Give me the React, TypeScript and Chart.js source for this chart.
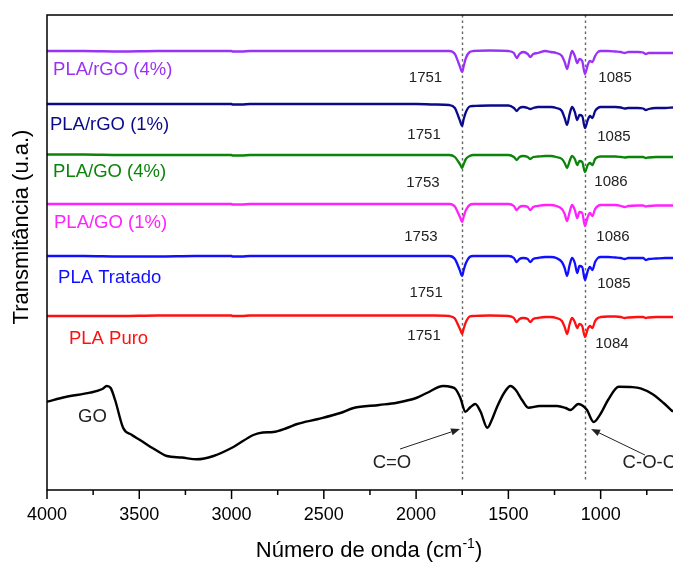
import React, { useEffect, useRef } from "react";
import { Chart, registerables } from "chart.js";

Chart.register(...registerables);

// Wavenumber grid (cm-1) for the PLA-based spectra
const wavenumbers = [4000, 3800, 3600, 3400, 3200, 3000, 2995, 2945, 2900, 2800, 2600, 2400, 2200, 2000, 1900, 1820, 1790, 1770, 1760, 1751, 1742, 1730, 1710, 1690, 1600, 1500, 1470, 1455, 1440, 1420, 1395, 1382, 1365, 1340, 1300, 1270, 1240, 1210, 1195, 1182, 1168, 1155, 1140, 1127, 1115, 1100, 1085, 1070, 1058, 1045, 1030, 1015, 1000, 960, 920, 890, 870, 850, 800, 770, 755, 740, 700, 650, 608];

const plaRgo4 = [439, 439, 438.5, 439, 439, 439, 438.5, 438.5, 439, 439, 439, 439, 439, 439, 439, 439, 436, 427, 422, 418, 424, 432, 438, 439, 439.5, 439, 437, 432, 436, 438, 436, 433, 436, 437, 439, 438, 437, 434, 428, 421, 431, 439, 434, 427, 431, 429, 416, 425, 429, 428, 434, 438, 439, 439, 438.5, 438, 437, 438, 438, 437.5, 436, 437, 437, 437, 437];
const plaRgo1 = [386, 386, 386, 386, 386, 386, 385.5, 385.5, 386, 386, 386, 386, 386, 386, 385.5, 385, 382, 373, 368, 364, 371, 378, 383.5, 384, 384.5, 384.5, 382, 379, 382, 383, 382, 381, 382, 383, 383, 383, 382, 379, 372, 365, 376, 383, 378, 370, 375, 374, 362, 370, 374, 372, 379, 382, 383, 383, 383, 382.5, 381.5, 382, 382, 381.5, 380, 381, 382, 382, 382.5];
const plaGo4 = [335.5, 335.5, 335, 335, 335, 335, 334.5, 334.5, 335, 335, 335, 335, 335, 335, 335, 335, 333, 328, 325, 322, 326, 331, 334, 335, 335, 335, 333, 330, 333, 334, 333, 331, 333, 333.5, 334, 334, 333, 331, 327, 322, 329, 334, 331, 325, 329, 328, 318, 325, 327, 325, 331, 333, 333.5, 333.5, 333.5, 333, 332.5, 333, 333, 333, 332, 332.5, 333, 333, 333];
const plaGo1 = [286, 286, 286, 286, 286, 286, 285.5, 285.5, 286, 286, 286, 286, 286, 286, 286, 286, 283.5, 276, 272, 268, 273.5, 280, 285, 286, 286, 286, 284, 280, 283, 284, 283, 280, 283, 284, 285, 285, 284, 281, 276, 269, 278, 285, 280, 272, 278, 277, 264, 273, 277, 274, 281, 284, 285, 285, 285, 284, 283, 284, 284.5, 284.5, 283.5, 284, 284.5, 284.5, 284.5];
const plaTratado = [234, 234, 233.5, 233.5, 234, 234, 233.5, 233.5, 234, 234, 234, 234, 234, 234, 234, 234, 231, 223, 218, 214, 220, 227, 233, 234, 234, 234, 232, 228, 231, 232, 231, 228, 231, 232, 233, 233, 232, 228, 222, 214, 225, 232, 227, 217, 224, 223, 210, 219, 223, 220, 228, 232, 233, 233, 232.5, 232, 231, 232, 232, 232, 230, 231, 231.5, 232, 232];
const plaPuro = [174, 174, 174, 174.5, 174.5, 174.5, 174, 174, 174.5, 174.5, 174.5, 174.5, 174.5, 174.5, 174.5, 174, 171.5, 164, 160, 156, 161.5, 168, 173.5, 174, 174.5, 174, 172, 168, 171, 172, 171, 168, 171, 172, 173, 173, 172, 169, 163, 156, 166, 172, 168, 162, 166, 164, 153, 161, 164, 162, 169, 172, 173, 173.5, 173.5, 173, 172, 172.5, 173, 173, 172, 172.5, 173, 173, 173];

// GO spectrum
const goWavenumbers = [4000, 3900, 3767, 3700, 3676, 3655, 3631, 3587, 3540, 3496, 3420, 3351, 3270, 3188, 3098, 2990, 2882, 2830, 2774, 2700, 2644, 2530, 2411, 2339, 2200, 2104, 2000, 1942, 1853, 1810, 1787, 1760, 1733, 1705, 1679, 1650, 1614, 1590, 1561, 1520, 1489, 1460, 1426, 1392, 1330, 1236, 1190, 1164, 1121, 1095, 1074, 1038, 1001, 960, 902, 840, 784, 720, 659, 608];
const goValues = [88.3, 93, 97.3, 101, 104, 102, 90, 62, 55, 50, 41, 34, 32.5, 30.7, 34, 43, 55, 57.5, 58, 62, 66, 71, 77, 82, 85, 87.3, 92, 97, 104, 103, 101, 92, 78.3, 83, 86, 78, 62.3, 70, 83.3, 98, 104, 100, 90, 82.3, 84, 84, 82, 80, 86, 84, 80, 68, 76, 90, 103.3, 103, 101.7, 96, 87, 78.3];

const seriesNames = ["PLA/rGO (4%)", "PLA/rGO (1%)", "PLA/GO (4%)", "PLA/GO (1%)", "PLA Tratado", "PLA Puro", "GO"];
const seriesColors = ["#9a32f5", "#0a0a8a", "#0a850a", "#ff22ff", "#1010ff", "#ff1010", "#000000"];

// Name label anchors (wavenumber, value)
const nameLabelX = [3967, 3984, 3967, 3962, 3940, 3881, 3832];
const nameLabelY = [420, 365, 318, 267, 212, 151, 73];

// Peak position labels
const peakTexts = ["1751", "1085", "1751", "1085", "1753", "1086", "1753", "1086", "1751", "1085", "1751", "1084"];
const peakLabelX = [1949, 922, 1957, 928, 1963, 944, 1974, 933, 1946, 928, 1957, 939];
const peakLabelY = [412, 412, 355, 353, 307, 308, 253, 253, 197, 206, 154, 146];

// Reference lines
const refLines = [1751, 1085];

// Band annotations
const bandTexts = ["C=O", "C-O-C"];
const bandTextX = [2131, 881];
const bandTextY = [27, 27];
const arrowFromX = [2087, 760];
const arrowFromY = [41, 35];
const arrowToX = [1762, 1052];
const arrowToY = [61, 61];

// Axis ticks
const xMin = 608;
const xMax = 4000;
const majorTicks = [4000, 3500, 3000, 2500, 2000, 1500, 1000];
const minorTicks = [3750, 3250, 2750, 2250, 1750, 1250, 750];

const FONT = "'Liberation Sans', Arial, sans-serif";

export default function App() {
  const ref = useRef<HTMLCanvasElement | null>(null);

  useEffect(() => {
    document.body.style.margin = "0";
    const canvas = ref.current;
    if (!canvas) return;

    const plaSeries = [plaRgo4, plaRgo1, plaGo4, plaGo1, plaTratado, plaPuro];
    const datasets: any[] = plaSeries.map((arr, i) => ({
      label: seriesNames[i],
      data: wavenumbers.map((w, j) => ({ x: w, y: arr[j] })),
      borderColor: seriesColors[i],
      borderWidth: 2.3,
      pointRadius: 0,
      cubicInterpolationMode: "monotone",
      fill: false,
    }));
    datasets.push({
      label: seriesNames[6],
      data: goWavenumbers.map((w, j) => ({ x: w, y: goValues[j] })),
      borderColor: seriesColors[6],
      borderWidth: 2.4,
      pointRadius: 0,
      cubicInterpolationMode: "monotone",
      fill: false,
    });

    const decor = {
      id: "decor",
      beforeDatasetsDraw(chart: any) {
        const { ctx, chartArea, scales } = chart;
        const xs = scales.x;
        const ys = scales.y;
        ctx.save();
        ctx.strokeStyle = "#666";
        ctx.lineWidth = 1.4;
        ctx.setLineDash([2.5, 3]);
        refLines.forEach((v) => {
          const px = Math.round(xs.getPixelForValue(v)) + 0.5;
          ctx.beginPath();
          ctx.moveTo(px, chartArea.top);
          ctx.lineTo(px, ys.getPixelForValue(10));
          ctx.stroke();
        });
        ctx.restore();
      },
      afterDraw(chart: any) {
        const { ctx, chartArea, scales } = chart;
        const xs = scales.x;
        const ys = scales.y;
        ctx.save();
        // axes frame
        ctx.strokeStyle = "#000";
        ctx.lineWidth = 1.5;
        ctx.setLineDash([]);
        ctx.beginPath();
        ctx.moveTo(chartArea.right, chartArea.top);
        ctx.lineTo(chartArea.left, chartArea.top);
        ctx.lineTo(chartArea.left, chartArea.bottom);
        ctx.lineTo(chartArea.right, chartArea.bottom);
        ctx.stroke();
        // ticks
        majorTicks.forEach((v) => {
          const px = xs.getPixelForValue(v);
          ctx.beginPath();
          ctx.moveTo(px, chartArea.bottom);
          ctx.lineTo(px, chartArea.bottom + 9);
          ctx.stroke();
        });
        minorTicks.forEach((v) => {
          const px = xs.getPixelForValue(v);
          ctx.beginPath();
          ctx.moveTo(px, chartArea.bottom);
          ctx.lineTo(px, chartArea.bottom + 5);
          ctx.stroke();
        });
        // tick labels
        ctx.fillStyle = "#000";
        ctx.font = `18px ${FONT}`;
        ctx.textAlign = "center";
        ctx.textBaseline = "middle";
        majorTicks.forEach((v) => {
          ctx.fillText(String(v), xs.getPixelForValue(v), chartArea.bottom + 25);
        });
        // x title with superscript
        const t1 = "Número de onda (cm";
        const sup = "-1";
        const t2 = ")";
        ctx.font = `22px ${FONT}`;
        const w1 = ctx.measureText(t1).width;
        const w3 = ctx.measureText(t2).width;
        ctx.font = `14px ${FONT}`;
        const w2 = ctx.measureText(sup).width;
        const total = w1 + w2 + w3;
        const cx = 369;
        let sx = cx - total / 2;
        const by = chartArea.bottom + 67;
        ctx.textAlign = "left";
        ctx.textBaseline = "alphabetic";
        ctx.font = `22px ${FONT}`;
        ctx.fillText(t1, sx, by);
        sx += w1;
        ctx.font = `14px ${FONT}`;
        ctx.fillText(sup, sx, by - 9);
        sx += w2;
        ctx.font = `22px ${FONT}`;
        ctx.fillText(t2, sx, by);
        // y title
        ctx.save();
        ctx.translate(22, 227);
        ctx.rotate(-Math.PI / 2);
        ctx.textAlign = "center";
        ctx.textBaseline = "middle";
        ctx.font = `22px ${FONT}`;
        ctx.fillText("Transmitância (u.a.)", 0, 0);
        ctx.restore();
        // series name labels
        ctx.font = `18.5px ${FONT}`;
        ctx.textAlign = "left";
        ctx.textBaseline = "middle";
        seriesNames.forEach((n, i) => {
          ctx.fillStyle = i === 6 ? "#222" : seriesColors[i];
          ctx.fillText(n, xs.getPixelForValue(nameLabelX[i]), ys.getPixelForValue(nameLabelY[i]));
        });
        // peak labels
        ctx.fillStyle = "#222";
        ctx.font = `15px ${FONT}`;
        ctx.textAlign = "center";
        peakTexts.forEach((t, i) => {
          ctx.fillText(t, xs.getPixelForValue(peakLabelX[i]), ys.getPixelForValue(peakLabelY[i]));
        });
        // band labels
        ctx.font = `18.5px ${FONT}`;
        ctx.textAlign = "center";
        ctx.fillText(bandTexts[0], xs.getPixelForValue(bandTextX[0]), ys.getPixelForValue(bandTextY[0]));
        ctx.textAlign = "left";
        ctx.fillText(bandTexts[1], xs.getPixelForValue(bandTextX[1]), ys.getPixelForValue(bandTextY[1]));
        // arrows
        ctx.strokeStyle = "#222";
        ctx.fillStyle = "#222";
        ctx.lineWidth = 1;
        for (let i = 0; i < arrowFromX.length; i++) {
          const x0 = xs.getPixelForValue(arrowFromX[i]);
          const y0 = ys.getPixelForValue(arrowFromY[i]);
          const x1 = xs.getPixelForValue(arrowToX[i]);
          const y1 = ys.getPixelForValue(arrowToY[i]);
          const ang = Math.atan2(y1 - y0, x1 - x0);
          const hl = 9;
          const hw = 3.5;
          const bx = x1 - hl * Math.cos(ang);
          const byy = y1 - hl * Math.sin(ang);
          ctx.beginPath();
          ctx.moveTo(x0, y0);
          ctx.lineTo(bx, byy);
          ctx.stroke();
          ctx.beginPath();
          ctx.moveTo(x1, y1);
          ctx.lineTo(bx + hw * Math.sin(ang), byy - hw * Math.cos(ang));
          ctx.lineTo(bx - hw * Math.sin(ang), byy + hw * Math.cos(ang));
          ctx.closePath();
          ctx.fill();
        }
        ctx.restore();
      },
    };

    const chart = new Chart(canvas, {
      type: "line",
      data: { datasets },
      options: {
        animation: false,
        responsive: false,
        maintainAspectRatio: false,
        devicePixelRatio: 1,
        layout: { padding: { left: 47, top: 15, right: 0, bottom: 75 } },
        plugins: { legend: { display: false }, tooltip: { enabled: false } },
        scales: {
          x: { type: "linear", reverse: true, min: xMin, max: xMax, display: false },
          y: { type: "linear", min: 0, max: 475, display: false },
        },
      },
      plugins: [decor],
    });
    return () => chart.destroy();
  }, []);

  return (
    <div style={{ width: 673, height: 565, position: "relative" }}>
      <canvas ref={ref} width={673} height={565} style={{ display: "block" }} />
    </div>
  );
}
